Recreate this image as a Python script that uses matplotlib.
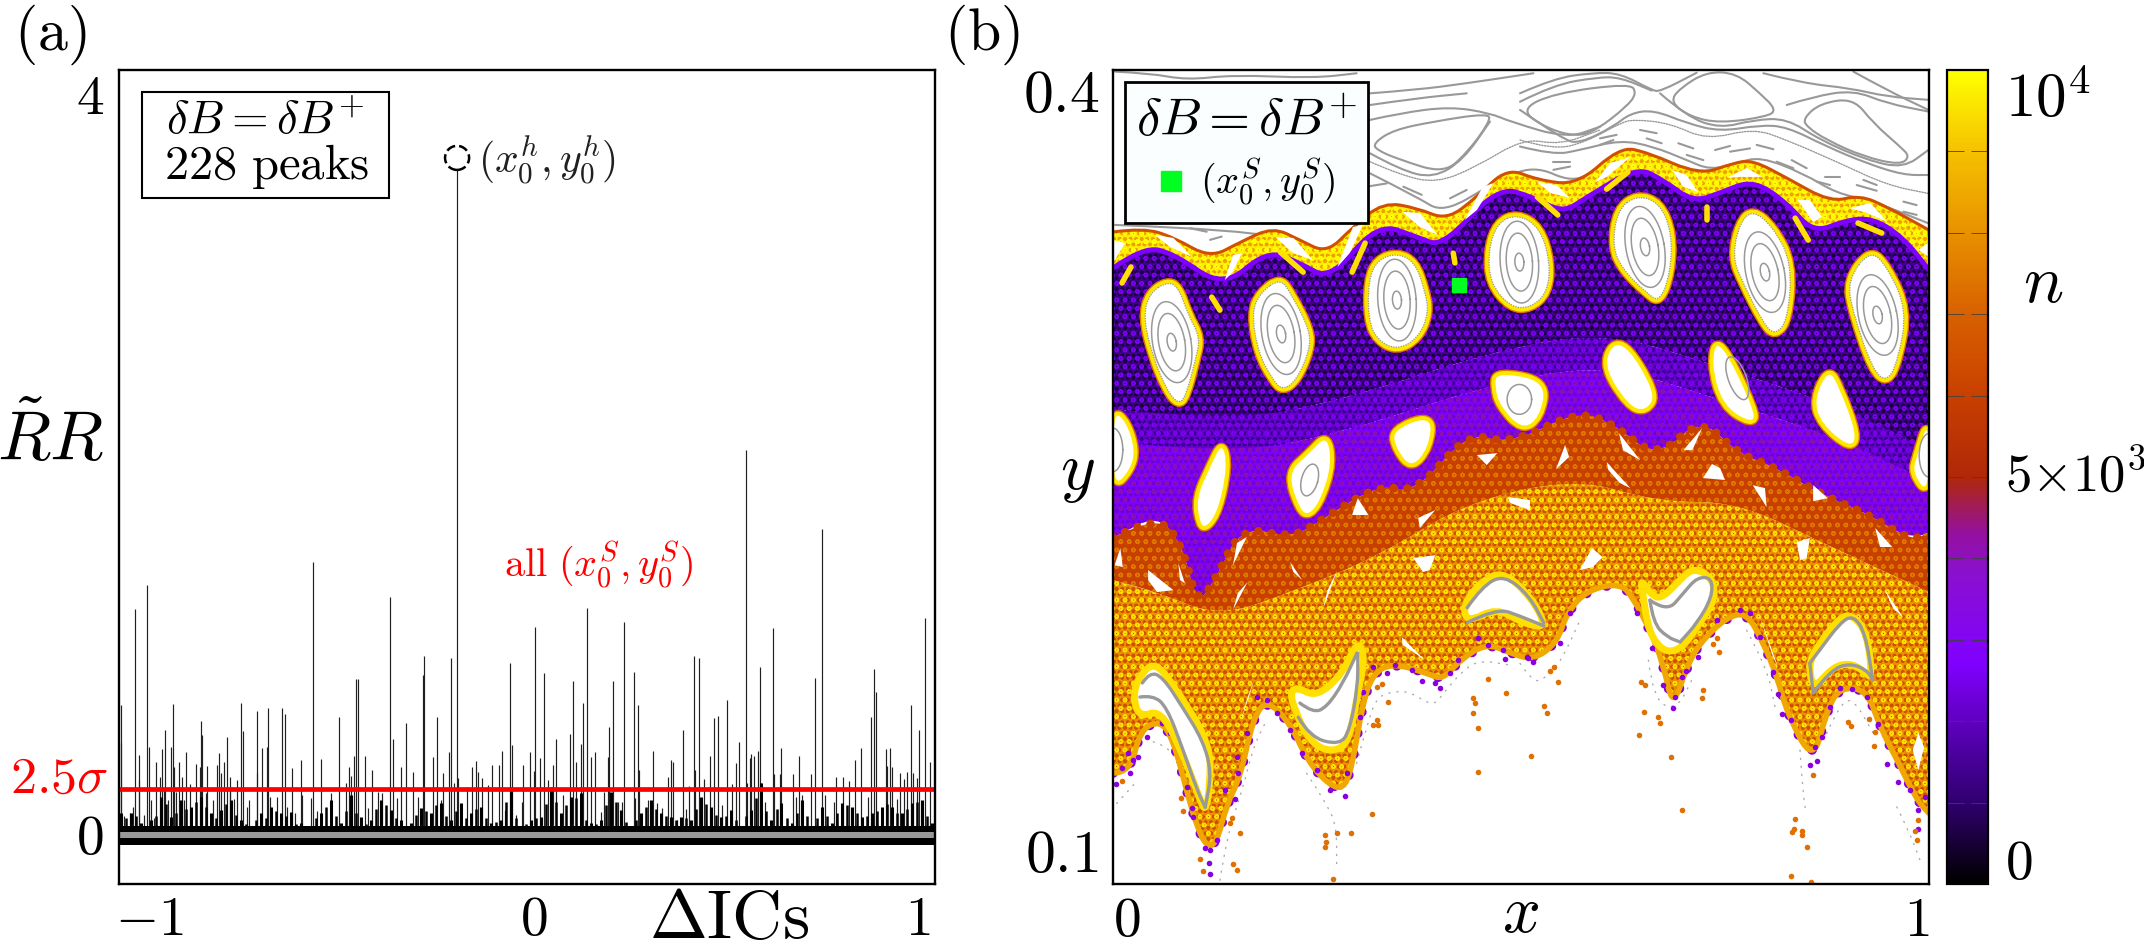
import numpy as np
import matplotlib
matplotlib.use('Agg')
from matplotlib import pyplot as plt
from matplotlib.colors import LinearSegmentedColormap, Normalize
from matplotlib.cm import ScalarMappable
from matplotlib.patches import Rectangle, PathPatch
from matplotlib.path import Path

plt.rcParams['mathtext.fontset'] = 'cm'
plt.rcParams['font.family'] = ['cmr10', 'DejaVu Serif']
plt.rcParams['axes.unicode_minus'] = False
plt.rcParams['hatch.linewidth'] = 1.0

# ---------- panel (a): peaks ----------
peak_x = [-1.074, -1.076, -1.068, -1.052, -1.043, -1.039, -1.029, -1.028, -1.016, -1.007, -1.002, -0.998, -0.990,
          -0.983, -0.974, -0.968, -0.964, -0.959, -0.952, -0.945, -0.939, -0.937, -0.931, -0.924, -0.917, -0.911,
          -0.905, -0.894, -0.880, -0.870, -0.867, -0.864, -0.854, -0.852, -0.835, -0.826, -0.820, -0.815, -0.807,
          -0.800, -0.792, -0.790, -0.781, -0.773, -0.763, -0.757, -0.747, -0.741, -0.722, -0.721, -0.707, -0.694,
          -0.692, -0.688, -0.670, -0.655, -0.648, -0.644, -0.629, -0.622, -0.607, -0.603, -0.579, -0.574, -0.564,
          -0.555, -0.529, -0.507, -0.490, -0.482, -0.475, -0.468, -0.464, -0.458, -0.440, -0.431, -0.421, -0.405,
          -0.395, -0.374, -0.368, -0.356, -0.345, -0.333, -0.314, -0.301, -0.290, -0.286, -0.262, -0.252, -0.243,
          -0.236, -0.220, -0.216, -0.208, -0.200, -0.197, -0.175, -0.160, -0.151, -0.145, -0.134, -0.119, -0.110,
          -0.090, -0.082, -0.074, -0.061, -0.056, -0.047, -0.032, -0.028, -0.009, 0.000, 0.004, 0.017, 0.026,
          0.037, 0.050, 0.057, 0.077, 0.094, 0.101, 0.109, 0.122, 0.128, 0.137, 0.148, 0.160, 0.174, 0.182,
          0.193, 0.195, 0.205, 0.220, 0.228, 0.234, 0.260, 0.262, 0.272, 0.274, 0.298, 0.309, 0.320, 0.333,
          0.350, 0.356, 0.363, 0.373, 0.389, 0.395, 0.404, 0.417, 0.419, 0.431, 0.443, 0.458, 0.468, 0.479,
          0.489, 0.502, 0.515, 0.526, 0.535, 0.551, 0.554, 0.563, 0.565, 0.573, 0.582, 0.589, 0.591, 0.602,
          0.622, 0.625, 0.641, 0.644, 0.674, 0.682, 0.689, 0.697, 0.720, 0.731, 0.749, 0.758, 0.780, 0.786,
          0.805, 0.821, 0.837, 0.852, 0.869, 0.878, 0.885, 0.890, 0.917, 0.920, 0.927, 0.932, 0.944, 0.953,
          0.963, 0.972, 0.981, 0.988, 0.998, 1.003, 1.017, 1.031]
peak_y = [0.703, 0.496, 0.103, 0.117, 0.153, 1.223, 0.297, 0.432, 0.108, 1.350, 0.478, 0.189, 0.090,
          0.393, 0.315, 0.463, 0.243, 0.568, 0.189, 0.478, 0.708, 0.369, 0.234, 0.393, 0.315, 0.189,
          0.450, 0.276, 0.384, 0.369, 0.618, 0.541, 0.225, 0.373, 0.189, 0.378, 0.441, 0.337, 0.393,
          0.532, 0.315, 0.261, 0.195, 0.297, 0.715, 0.562, 0.153, 0.189, 0.333, 0.670, 0.472, 0.478,
          0.685, 0.207, 0.204, 0.688, 0.654, 0.153, 0.360, 0.117, 0.405, 0.216, 0.198, 1.474, 0.132,
          0.411, 0.225, 0.636, 0.279, 0.366, 0.321, 0.429, 0.845, 0.845, 0.427, 0.144, 0.351, 0.234,
          0.225, 1.288, 0.517, 0.198, 0.369, 0.604, 0.339, 0.207, 0.865, 0.968, 0.423, 0.636, 0.189,
          0.333, 0.447, 0.955, 0.279, 3.600, 0.310, 0.261, 0.369, 0.402, 0.339, 0.306, 0.270, 0.378,
          0.378, 0.456, 0.135, 0.928, 0.487, 0.108, 0.180, 0.378, 0.450, 0.348, 1.122, 0.414, 0.874,
          0.297, 0.378, 0.519, 0.216, 0.546, 0.834, 0.397, 0.492, 0.715, 1.225, 0.423, 0.447, 0.126, 0.234,
          0.420, 0.586, 0.833, 0.180, 0.180, 1.153, 0.883, 0.198, 0.703, 0.351, 0.189, 0.454, 0.171, 0.144,
          0.315, 0.405, 0.393, 0.081, 0.568, 0.139, 0.265, 0.968, 0.351, 0.955, 0.303, 0.429, 0.631, 0.643,
          0.162, 0.730, 0.274, 0.387, 0.505, 2.079, 0.279, 0.414, 0.436, 0.429, 0.454, 0.906, 0.279, 0.180,
          1.117, 0.330, 0.330, 0.469, 0.330, 0.207, 0.429, 0.216, 0.330, 0.851, 1.654, 0.216, 0.180, 0.315,
          0.315, 0.292, 0.405, 0.469, 0.207, 0.640, 0.895, 0.775, 0.465, 0.373, 0.469, 0.369, 0.193, 0.333,
          0.303, 0.339, 0.703, 0.337, 0.306, 0.568, 1.171, 0.393]

# low forest of spikes, read left to right; second list sits between the first
low_y = [0.117, 0.117, 0.063, 0.081, 0.207, 0.099, 0.189, 0.153, 0.207, 0.117, 0.135, 0.189, 0.081, 0.045, 0.117,
         0.153, 0.117, 0.126, 0.063, 0.045, 0.117, 0.189, 0.063, 0.216, 0.099, 0.081, 0.189, 0.135, 0.081, 0.063,
         0.144, 0.117, 0.171, 0.081, 0.171, 0.117, 0.153, 0.063, 0.081, 0.261, 0.045, 0.081, 0.099, 0.261, 0.117,
         0.207, 0.225, 0.063, 0.081, 0.234, 0.135, 0.045, 0.117, 0.189, 0.117, 0.099, 0.099, 0.081, 0.207, 0.153,
         0.099, 0.135, 0.045, 0.135, 0.279, 0.081, 0.171, 0.063, 0.189, 0.045, 0.153, 0.063, 0.171, 0.153, 0.099,
         0.117, 0.153, 0.153, 0.117, 0.171, 0.189, 0.063]
low2_y = [0.090, 0.100, 0.050, 0.100, 0.170, 0.120, 0.140, 0.180, 0.150, 0.090, 0.170, 0.110, 0.060, 0.080, 0.090,
          0.130, 0.100, 0.060, 0.050, 0.090, 0.150, 0.100, 0.130, 0.120, 0.060, 0.140, 0.160, 0.090, 0.050, 0.110,
          0.130, 0.160, 0.100, 0.130, 0.090, 0.140, 0.090, 0.070, 0.180, 0.090, 0.060, 0.090, 0.170, 0.180, 0.160,
          0.200, 0.080, 0.060, 0.160, 0.180, 0.070, 0.080, 0.150, 0.140, 0.100, 0.080, 0.090, 0.140, 0.170, 0.110,
          0.100, 0.080, 0.100, 0.200, 0.130, 0.140, 0.090, 0.120, 0.100, 0.090, 0.100, 0.120, 0.160, 0.120, 0.100,
          0.130, 0.170, 0.120, 0.140, 0.180, 0.100]
low_x = np.linspace(-1.074, 1.035, len(low_y))
low2_x = np.linspace(-1.061, 1.022, len(low2_y))
threshold = 0.249
circle_x, circle_y = -0.2, 3.66

# ---------- panel (b): outlines of the regions ----------
gold_top_x = [0, .037, .074, .119, .156, .196, .229, .262, .294, .331, .373, .409, .446, .483, .520, .569, .621,
              .654, .719, .760, .784, .826, .879, .915, .949, 1]
gold_top_y = [.3403, .3418, .3384, .3307, .3366, .3421, .3373, .3325, .3421, .3513, .3491, .3447, .3532, .3639,
              .3595, .3576, .3716, .3698, .3613, .3657, .3668, .3602, .3513, .3539, .3495, .3410]
sea_top_x = [0, .037, .074, .135, .189, .229, .266, .324, .373, .404, .471, .515, .551, .581, .642, .674, .711,
             .744, .784, .826, .858, .899, .931, .968, 1]
sea_top_y = [.3270, .3348, .3325, .3196, .3337, .3289, .3226, .3436, .3384, .3348, .3569, .3532, .3473, .3532,
             .3642, .3595, .3513, .3547, .3595, .3510, .3399, .3447, .3454, .3384, .3263]
dark_edge_x = [0, .15, .3, .45, .6, .75, .9, 1]
dark_edge_y = [.275, .270, .280, .295, .304, .290, .275, .260]
mid_edge_y = [.263, .258, .268, .283, .292, .278, .263, .248]
orange_top_x = [0, .054, .085, .103, .125, .157, .219, .255, .326, .371, .434, .487, .568, .613, .666, .720, .765,
                .809, .872, .926, .979, 1]
orange_top_y = [.2275, .2363, .2253, .2028, .2120, .2319, .2275, .2341, .2474, .2441, .2666, .2621, .2743, .2699,
                .2566, .2721, .2588, .2540, .2430, .2363, .2264, .2297]
gold_edge_x = [0, .054, .13, .219, .326, .434, .568, .666, .765, .872, 1]
gold_edge_y = [.2120, .2076, .1984, .2076, .2209, .2408, .2496, .2408, .2408, .2253, .2076]
sea_bottom_x = [0, .021, .033, .058, .074, .091, .103, .115, .127, .140, .156, .172, .189, .217, .238, .262, .282,
                .293, .306, .319, .343, .385, .404, .425, .458, .487, .515, .544, .556, .581, .621, .637, .658,
                .674, .686, .703, .719, .752, .777, .797, .814, .826, .858, .875, .891, .924, .940, .961, .985, 1]
sea_bottom_y = [.1409, .1409, .1567, .1604, .1530, .1335, .1210, .1136, .1151, .1298, .1394, .1615, .1678, .1593,
                .1457, .1372, .1346, .1431, .1667, .1777, .1814, .1777, .1752, .1825, .1888, .1851, .1825, .1888,
                .1999, .2083, .2109, .2057, .1936, .1814, .1648, .1799, .1888, .1984, .1999, .1888, .1763, .1630,
                .1446, .1641, .1726, .1715, .1578, .1457, .1309, .1261]

# level of n shown in each region
n_gold_band = 9700
n_dark_sea = 1300
n_mid_sea = 2100
n_violet_sea = 2700
n_red_band = 6000
n_gold_sea = 8000

# large islands of the upper chain
islands_upper = [
    [(.066, .3219), (.080, .3201), (.092, .3098), (.107, .3013), (.101, .2932), (.089, .2796), (.080, .2769),
     (.066, .2820), (.049, .2942), (.037, .3090), (.045, .3178)],
    [(.205, .3233), (.219, .3171), (.241, .3042), (.241, .2968), (.225, .2857), (.208, .2820), (.196, .2857),
     (.178, .2957), (.170, .3104), (.180, .3178)],
    [(.348, .3325), (.370, .3292), (.382, .3189), (.387, .3104), (.374, .3012), (.348, .2968), (.324, .3005),
     (.313, .3078), (.313, .3226), (.324, .3300)],
    [(.495, .3469), (.523, .3421), (.536, .3289), (.532, .3178), (.511, .3123), (.487, .3126), (.462, .3215),
     (.460, .3337), (.471, .3436)],
    [(.642, .3539), (.670, .3510), (.685, .3399), (.683, .3252), (.670, .3145), (.654, .3178), (.625, .3263),
     (.612, .3348), (.618, .3484)],
    [(.784, .3484), (.809, .3421), (.832, .3289), (.827, .3078), (.811, .3023), (.797, .3067), (.772, .3215),
     (.759, .3311), (.768, .3436)],
    [(.928, .3337), (.949, .3274), (.973, .3115), (.962, .2931), (.949, .2850), (.931, .2894), (.907, .3104),
     (.900, .3226)],
]
upper_centre_x = [.072, .206, .348, .498, .652, .799, .937]
upper_centre_y = [.2997, .3027, .3152, .3292, .3348, .3255, .3097]
upper_tilt = [10, 10, 4, 4, 10, 12, 12]
loop_w = [.011, .032, .047]
loop_h = [.0066, .0214, .0302]

# second row of islands
islands_middle = [
    [(0, .2747), (.017, .2699), (.027, .2599), (.021, .2526), (0, .2459)],
    [(1, .2721), (.985, .2574), (.980, .2515), (1, .2433)],
    [(.134, .2629), (.140, .2537), (.129, .2378), (.115, .2316), (.107, .2323), (.102, .2422), (.119, .2537)],
    [(.262, .2655), (.268, .2551), (.256, .2426), (.241, .2360), (.229, .2378), (.214, .2515), (.241, .2588)],
    [(.391, .2728), (.387, .2610), (.366, .2533), (.348, .2599), (.342, .2673)],
    [(.470, .2886), (.531, .2853), (.523, .2719), (.501, .2675), (.474, .2764), (.468, .2831)],
    [(.622, .3020), (.666, .2809), (.653, .2742), (.631, .2764), (.599, .2920)],
    [(.742, .3020), (.787, .2742), (.783, .2697), (.747, .2764), (.733, .2920)],
    [(.877, .2898), (.890, .2831), (.912, .2653), (.903, .2608), (.868, .2697), (.859, .2786)],
]
middle_centre_x = [.241, .498, .765, 0, 1]
middle_centre_y = [.2489, .2786, .2864, .2600, .2580]
middle_w = [.020, .030, .022, .024, .024]
middle_h = [.0120, .0110, .0166, .0160, .0160]
middle_tilt = [-15, 0, 20, 0, 0]

# white slivers inside the gold band
slivers_band = [
    [(.051, .3392), (.074, .3381), (.097, .3311), (.070, .3348)],
    [(.137, .3226), (.147, .3318), (.158, .3325), (.146, .3252)],
    [(.199, .3384), (.221, .3381), (.245, .3300), (.221, .3325)],
    [(.275, .3274), (.294, .3421), (.306, .3429), (.290, .3325)],
    [(.355, .3477), (.376, .3473), (.398, .3392), (.376, .3421)],
    [(.431, .3447), (.453, .3569), (.466, .3583), (.446, .3484)],
    [(.520, .3587), (.544, .3576), (.560, .3528), (.536, .3547)],
    [(.591, .3587), (.609, .3657), (.634, .3679), (.605, .3606)],
    [(.685, .3631), (.703, .3613), (.717, .3550), (.699, .3569)],
    [(.752, .3602), (.777, .3639), (.795, .3606), (.768, .3606)],
    [(.839, .3521), (.854, .3521), (.869, .3458), (.858, .3440)],
    [(.903, .3491), (.928, .3510), (.949, .3440), (.924, .3473)],
    [(.987, .3337), (1, .3366), (1, .3311)],
    [(0, .3373), (.015, .3362), (0, .3289)],
]
# yellow drops on the dark sea: each is one short stroke
drops = [
    [(.011, .3215), (.022, .3274)], [(.121, .3163), (.131, .3115)], [(.205, .3329), (.233, .3255)],
    [(.293, .3255), (.309, .3362)], [(.417, .3325), (.419, .3289)], [(.520, .3532), (.545, .3466)],
    [(.605, .3561), (.631, .3624)], [(.728, .3495), (.728, .3447)], [(.836, .3454), (.852, .3373)],
    [(.913, .3436), (.942, .3399)],
]

# small white holes in the orange part
holes = [
    [(.554, .2618), (.559, .2574), (.543, .2529)], [(.620, .2662), (.646, .2562), (.625, .2599)],
    [(.605, .2555), (.634, .2459), (.621, .2478), (.607, .2526)], [(.722, .2680), (.710, .2599), (.699, .2599)],
    [(.723, .2496), (.734, .2548), (.744, .2533), (.750, .2489)], [(.784, .2470), (.799, .2459), (.801, .2389)],
    [(.858, .2470), (.876, .2422), (.858, .2411)], [(.838, .2260), (.854, .2275), (.850, .2201), (.842, .2194)],
    [(.934, .2312), (.955, .2242), (.940, .2242)], [(.946, .2083), (.968, .1984), (.956, .2017)],
    [(.572, .2157), (.587, .2238), (.600, .2205), (.588, .2168)], [(.790, .2010), (.815, .1799), (.809, .1836)],
    [(.300, .2422), (.313, .2360), (.293, .2360)], [(.395, .2378), (.376, .2312), (.374, .2349)],
    [(.446, .2581), (.471, .2588), (.458, .2544)], [(.484, .2426), (.511, .2415), (.511, .2378), (.487, .2404)],
    [(.368, .2201), (.395, .2212), (.388, .2157), (.380, .2150)], [(.009, .2238), (.012, .2168), (.002, .2175)],
    [(.147, .2175), (.164, .2279), (.152, .2257)], [(.043, .2157), (.074, .2083), (.054, .2076), (.043, .2120)],
    [(.147, .2010), (.165, .2113), (.153, .2072)], [(.257, .2010), (.275, .2157), (.263, .2083)],
    [(.156, .1593), (.174, .1759), (.165, .1689)], [(.354, .1910), (.382, .1825), (.370, .1851), (.355, .1881)],
    [(.987, .1556), (.994, .1505), (.987, .1420), (.980, .1494)], [(.080, .2183), (.088, .2109), (.082, .2120)],
    [(.217, .2187), (.232, .2120), (.221, .2150)],
]

# crescents along the lower edge
crescents = [
    [(.029, .1752), (.051, .1825), (.078, .1715), (.119, .1519), (.119, .1357), (.113, .1261), (.104, .1335),
     (.082, .1505), (.058, .1641), (.033, .1615), (.025, .1678)],
    [(.217, .1704), (.225, .1726), (.250, .1689), (.282, .1777), (.300, .1899), (.309, .1836), (.300, .1704),
     (.290, .1541), (.278, .1494), (.257, .1494), (.238, .1541), (.223, .1641)],
    [(.429, .2029), (.452, .2118), (.479, .2152), (.514, .2052), (.532, .1941), (.501, .1963), (.470, .2018),
     (.434, .1963)],
    [(.646, .2128), (.662, .2057), (.674, .2057), (.691, .2109), (.711, .2168), (.735, .2128), (.738, .2046),
     (.719, .1962), (.699, .1873), (.679, .1851), (.662, .1899), (.654, .1973), (.650, .2057)],
    [(.852, .1814), (.866, .1888), (.891, .1984), (.907, .1991), (.924, .1925), (.931, .1752), (.919, .1788),
     (.903, .1814), (.882, .1800), (.858, .1715)],
]
crescent_lines = [
    [(.036, .1741), (.045, .1781), (.061, .1763), (.085, .1652), (.110, .1530), (.121, .1409), (.113, .1283)],
    [(.033, .1689), (.049, .1696), (.066, .1652), (.086, .1494), (.103, .1346), (.113, .1283)],
    [(.229, .1667), (.245, .1630), (.262, .1652), (.282, .1741), (.299, .1851)],
    [(.227, .1615), (.241, .1541), (.278, .1512), (.290, .1567), (.300, .1726), (.300, .1851)],
    [(.434, .2018), (.452, .2096), (.479, .2140), (.510, .2063), (.528, .1962)],
    [(.434, .1963), (.470, .2018), (.501, .1985), (.528, .1951)],
    [(.658, .2046), (.679, .2002), (.699, .2072), (.716, .2131), (.734, .2128), (.734, .2057), (.716, .1962),
     (.695, .1892)],
    [(.658, .2046), (.662, .1962), (.679, .1910), (.695, .1892)],
    [(.854, .1814), (.866, .1862), (.891, .1962), (.907, .1991), (.922, .1925), (.931, .1752)],
    [(.858, .1704), (.854, .1814)],
    [(.858, .1704), (.879, .1788), (.903, .1814), (.924, .1788), (.931, .1752)],
]

# stray points below the sea
orange_x = [.0106, .0829, .0862, .1066, .1099, .1474, .1515, .1556, .1454, .1434, .2598, .2741, .2912, .2610, .2598,
            .2700, .3170, .3374, .3231, .3190, .3251, .3231, .3292, .4416, .4436, .4416, .4477, .4477, .4816, .4600,
            .5119, .5282, .5323, .5356, .5405, .5458, .6450, .6512, .6467, .6516, .6683, .6704, .6834, .6969, .7227,
            .7214, .7349, .7427, .7406, .8354, .8346, .8321, .8444, .8444, .8509, .8309, .8554, .9012, .9044, .9269,
            .9339, .9330, .8575, .9829, .9857, .9861]
orange_y = [.1381, .1318, .1269, .1092, .1049, .1073, .1051, .1189, .1242, .1223, .1182, .1189, .1189, .1156, .1135,
            .1019, .1257, .1672, .1604, .1586, .1586, .1725, .1737, .1684, .1668, .1632, .1576, .1411, .1705, .1754,
            .1472, .1655, .1631, .1784, .1800, .1743, .1550, .1634, .1745, .1733, .1614, .1594, .1469, .1272, .1714,
            .1687, .1886, .1856, .1908, .1240, .1204, .1192, .1195, .1180, .1137, .1029, .1008, .1598, .1582, .1607,
            .1561, .1509, .1401, .1196, .1164, .1235]
violet_x = [.0037, .0106, .0208, .0249, .0310, .0188, .0412, .0596, .0698, .0903, .0964, .0984, .1127, .1189, .1189,
            .1180, .1270, .1372, .1495, .1536, .1515, .1638, .1760, .1883, .2005, .2169, .2312, .2496, .2659, .2843,
            .2863, .3027, .3068, .3190, .3354, .3456, .3660, .3783, .3946, .4007, .4130, .4232, .4477, .4600, .4783,
            .4804, .5090, .5151, .5070, .5478, .5601, .6418, .6602, .6745, .6867, .6887, .6969, .7022, .7165, .7398,
            .7684, .7807, .7929, .8093, .8154, .8195, .8305, .8603, .8542, .8632, .8685, .8787, .8910, .9053, .9236,
            .9379, .9481, .9624, .9767, .9869, .9869, .9951]
violet_y = [.1368, .1426, .1408, .1457, .1467, .1481, .1543, .1592, .1555, .1359, .1279, .1248, .1131, .1125, .1037,
            .1076, .1162, .1346, .1315, .1408, .1469, .1555, .1690, .1678, .1629, .1567, .1481, .1420, .1346, .1324,
            .1408, .1617, .1709, .1801, .1779, .1807, .1789, .1749, .1739, .1721, .1776, .1825, .1905, .1881, .1862,
            .1829, .1832, .1819, .1837, .1889, .1997, .1997, .1868, .1733, .1647, .1690, .1763, .1786, .1837, .1972,
            .2009, .1997, .1911, .1782, .1702, .1626, .1606, .1505, .1438, .1453, .1542, .1653, .1724, .1720, .1690,
            .1591, .1444, .1376, .1346, .1272, .1202, .1321]
# faint grey trails of points under the sea
trails = [
    [(.0045, .1297), (.0269, .1371)],
    [(.0494, .1524), (.0698, .1506), (.0821, .1420), (.1025, .1285)],
    [(.1311, .1014), (.1393, .1174), (.1597, .1358), (.1720, .1506), (.1883, .1604)],
    [(.2373, .1408), (.2618, .1297), (.2741, .1211), (.2741, .1064)],
    [(.2986, .1445), (.3108, .1580), (.3231, .1690), (.3435, .1709), (.3640, .1709), (.3925, .1653), (.4048, .1703),
     (.4293, .1789), (.4497, .1825), (.4865, .1807)],
    [(.4988, .1813), (.5151, .1739), (.5315, .1763), (.5499, .1825), (.5723, .1972)],
    [(.6561, .1825), (.6622, .1677), (.6908, .1641), (.7112, .1763)],
    [(.7766, .1935), (.8011, .1800), (.8113, .1653)],
    [(.8419, .1493), (.8460, .1309), (.8501, .1260)],
    [(.8746, .1555), (.8910, .1665), (.9073, .1684), (.9318, .1555)],
    [(.9606, .1284), (.9767, .1186), (.9890, .1088)],
]

# grey curves above the sea
eyes = [
    [(.3191, .3730), (.3436, .3779), (.3926, .3810), (.4600, .3841), (.4620, .3810), (.4335, .3693), (.4049, .3619),
     (.3518, .3669), (.3232, .3705)],
    [(.4988, .3853), (.5397, .3914), (.6336, .3951), (.6418, .3914), (.6295, .3865), (.5928, .3779), (.5682, .3754),
     (.5315, .3785)],
    [(.6826, .3883), (.6949, .3933), (.7276, .3994), (.7643, .3988), (.7929, .3914), (.8133, .3853), (.8011, .3828),
     (.7439, .3804), (.7071, .3828)],
    [(.8460, .3822), (.8665, .3877), (.9073, .3896), (.9318, .3804), (.9645, .3718), (.9767, .3681), (.9645, .3650),
     (.9196, .3681), (.8746, .3742), (.8501, .3791)],
]
flow_lines = [
    [(.4988, .3914), (.5397, .3969), (.5887, .3990), (.6214, .3988), (.6602, .3926), (.6704, .3920), (.7153, .3990)],
    [(.4988, .3883), (.5397, .3945), (.5928, .3973), (.6214, .3973), (.6602, .3924)],
    [(.6704, .3914), (.7031, .3828), (.7439, .3785), (.7848, .3816), (.8256, .3822), (.8665, .3742), (.9236, .3668),
     (.9686, .3638), (.9992, .3705)],
    [(.4988, .3853), (.5519, .3742), (.5723, .3730), (.6132, .3791), (.6336, .3840), (.6622, .3853), (.7031, .3804),
     (.7439, .3773), (.7929, .3797), (.8256, .3791), (.8746, .3718), (.9236, .3656), (.9686, .3613), (.9992, .3613)],
    [(.7970, .3988), (.8460, .3951), (.9032, .3933), (.9482, .3902), (.9992, .3890)],
    [(.9073, .3994), (.9482, .3926), (.9992, .3853)],
    [(.8256, .3871), (.8583, .3902), (.9073, .3926), (.9482, .3877), (.9992, .3847)],
    [(.3150, .3914), (.3722, .3927), (.4335, .3951), (.5152, .3988)],
    [(.3150, .3871), (.3722, .3896), (.4335, .3914)],
    [(.3150, .3816), (.3517, .3841), (.4130, .3865), (.4620, .3841), (.4866, .3810), (.5560, .3748), (.5968, .3791)],
    [(.3150, .3693), (.3517, .3632), (.3926, .3601), (.4294, .3669), (.4620, .3810)],
    [(.3150, .3619), (.3722, .3533), (.4049, .3472), (.4661, .3583), (.5152, .3650), (.5642, .3583), (.5968, .3644)],
    [(.4988, .3718), (.5397, .3687), (.5723, .3705), (.6214, .3742), (.6622, .3718), (.7031, .3668), (.7317, .3632),
     (.7643, .3656), (.7929, .3681), (.8460, .3619), (.8869, .3545), (.9277, .3521), (.9992, .3435)],
    [(.0025, .3429), (.1598, .3411), (.2292, .3361), (.2578, .3318), (.2782, .3355), (.3109, .3460)],
    [(.0025, .3994), (.0454, .3988), (.0903, .3963), (.1475, .3982), (.2455, .3970), (.2986, .3988)],
]
dotted_lines = [
    [(.3150, .3662), (.3517, .3613), (.3967, .3583), (.4457, .3644), (.5029, .3748), (.5478, .3724), (.5968, .3779)],
    [(.4988, .3742), (.5397, .3705), (.5805, .3736), (.6214, .3804), (.6377, .3818), (.6826, .3804), (.7276, .3742),
     (.7848, .3785), (.8256, .3742), (.8869, .3662), (.9482, .3576), (.9992, .3545)],
]
dashes = [
    [(.6459, .3779), (.6663, .3767)], [(.6540, .3748), (.6724, .3730)], [(.6928, .3730), (.7112, .3711)],
    [(.7031, .3687), (.7235, .3668)], [(.7378, .3705), (.7562, .3720)], [(.7562, .3699), (.7807, .3711)],
    [(.7888, .3724), (.8093, .3708)], [(.8133, .3662), (.8338, .3638)], [(.8317, .3668), (.8501, .3638)],
    [(.8624, .3589), (.8787, .3576)], [(.8726, .3607), (.8910, .3607)], [(.9114, .3576), (.9359, .3555)],
    [(.9196, .3595), (.9359, .3576)], [(.9686, .3515), (.9849, .3502)], [(.9686, .3478), (.9849, .3466)],
    [(.5397, .3662), (.5601, .3662)], [(.5397, .3632), (.5601, .3644)], [(.5968, .3748), (.6172, .3761)],
    [(.5968, .3724), (.6132, .3742)], [(.4130, .3527), (.4335, .3558)], [(.3558, .3570), (.3783, .3540)],
    [(.3109, .3570), (.3354, .3582)], [(.0944, .3417), (.1148, .3404)], [(.1189, .3374), (.1332, .3386)],
]
start_x, start_y = .424, .3207

# colour scale for n
cmap_n = LinearSegmentedColormap.from_list('n_map', [
    (0.00, '#000000'), (0.10, '#300070'), (0.20, '#6000c0'), (0.27, '#8000ff'), (0.38, '#8a10d0'),
    (0.43, '#9410a0'), (0.50, '#b02808'), (0.60, '#c84000'), (0.70, '#d86000'), (0.80, '#e89000'),
    (0.90, '#f5c000'), (1.00, '#ffff00')])
norm_n = Normalize(0, 10000)


def xy(points):
    return [p[0] for p in points], [p[1] for p in points]


def curve_verts(points):
    # read points act as quadratic control points, so the outline comes out rounded
    verts = [points[0]]
    codes = [Path.MOVETO]
    for a, b in zip(points[1:-1], points[2:]):
        verts += [a, ((a[0] + b[0]) / 2, (a[1] + b[1]) / 2)]
        codes += [Path.CURVE3, Path.CURVE3]
    verts.append(points[-1])
    codes.append(Path.LINETO)
    return verts, codes


def open_path(points):
    verts, codes = curve_verts(points)
    return Path(verts, codes)


def closed_path(points):
    first = ((points[-1][0] + points[0][0]) / 2, (points[-1][1] + points[0][1]) / 2)
    verts = [first]
    codes = [Path.MOVETO]
    ring = list(points) + [points[0]]
    for a, b in zip(ring[:-1], ring[1:]):
        verts += [a, ((a[0] + b[0]) / 2, (a[1] + b[1]) / 2)]
        codes += [Path.CURVE3, Path.CURVE3]
    verts.append(first)
    codes.append(Path.CLOSEPOLY)
    return Path(verts, codes)


def band_path(top_x, top_y, bot_x, bot_y):
    v1, c1 = curve_verts(list(zip(top_x, top_y)))
    v2, c2 = curve_verts(list(zip(bot_x, bot_y))[::-1])
    c2[0] = Path.LINETO
    return Path(v1 + v2 + [v1[0]], c1 + c2 + [Path.CLOSEPOLY])


def band(ax, top_x, top_y, bot_x, bot_y, n, specks, z):
    # region between two read-off curves, mottled with hatch layers
    p = band_path(top_x, top_y, bot_x, bot_y)
    ax.add_patch(PathPatch(p, facecolor=cmap_n(norm_n(n)), edgecolor='none', lw=0, zorder=z))
    for i, (color, hatch) in enumerate(specks):
        ax.add_patch(PathPatch(p, facecolor='none', edgecolor=color, hatch=hatch, lw=0, zorder=z + 0.05 * (i + 1)))


def stroke(ax, points, **kw):
    ax.add_patch(PathPatch(open_path(points), facecolor='none', capstyle='round', **kw))


def loop(ax, cx, cy, w, h, tilt, z=6):
    # closed grey orbit, tilted in picture space (y axis spans 0.3)
    t = np.linspace(0, 2 * np.pi, 60)
    a = np.radians(tilt)
    h_iso = h / 0.3
    lx = cx + w / 2 * np.cos(t) * np.cos(a) - h_iso / 2 * np.sin(t) * np.sin(a)
    ly = cy + 0.3 * (w / 2 * np.cos(t) * np.sin(a) + h_iso / 2 * np.sin(t) * np.cos(a))
    ax.plot(lx, ly, color='#999999', lw=1.1, zorder=z)


def rimmed(ax, points, z=5):
    p = closed_path(points)
    ax.add_patch(PathPatch(p, facecolor='#e07000', edgecolor='#e07000', lw=8, joinstyle='round', zorder=z))
    ax.add_patch(PathPatch(p, facecolor='#ffe800', edgecolor='#ffe800', lw=6, joinstyle='round', zorder=z + 0.1))
    ax.add_patch(PathPatch(p, facecolor='white', edgecolor='none', zorder=z + 0.2))


fig = plt.figure(figsize=(21.44, 9.48), dpi=100)
ax_a = fig.add_axes([119 / 2144, 64 / 948, 816 / 2144, 814 / 948])
ax_b = fig.add_axes([1113 / 2144, 64 / 948, 816 / 2144, 814 / 948])
cax = fig.add_axes([1947 / 2144, 64 / 948, 41 / 2144, 814 / 948])

# ---------- panel (a) ----------
ax_a.set_xlim(-1.08, 1.044)
ax_a.set_ylim(-0.265, 4.135)
ax_a.vlines(peak_x, 0, peak_y, color='#202020', lw=0.85, zorder=2)
ax_a.vlines(low_x, 0, low_y, color='black', lw=2.2, zorder=2)
ax_a.vlines(low2_x, 0, low2_y, color='black', lw=1.8, zorder=2)
ax_a.axhspan(0.018, 0.05, color='black', lw=0, zorder=3)
ax_a.axhspan(-0.056, -0.018, color='black', lw=0, zorder=3)
ax_a.axhspan(-0.018, 0.018, color='#999999', lw=0, zorder=4)
ax_a.axhline(threshold, color='#ff0000', lw=3.4, zorder=5)
ax_a.scatter([circle_x], [circle_y], s=300, facecolors='none', edgecolors='black', linestyles='--',
             linewidths=1.8, zorder=6)
ax_a.text(-0.146, 3.65, r'$(x_0^h,y_0^h)$', fontsize=30, ha='left', va='center', color='#202020')
ax_a.text(-0.078, 1.459, r'$\mathrm{all}\ (x_0^S,y_0^S)$', fontsize=29, ha='left', va='center', color='#ff0000')

ax_a.set_xticks([-1, 0, 1])
ax_a.set_xticklabels([r'$-1$', r'$0$', r'$1$'], fontsize=40)
ax_a.set_yticks([0, 4])
ax_a.set_yticklabels([r'$0$', r'$4$'], fontsize=40)
ax_a.tick_params(length=0, pad=9)
ax_a.tick_params(axis='y', pad=11)
ax_a.text(-0.0135, threshold + 0.05, r'$2.5\sigma$', color='#ff0000', fontsize=37.5, ha='right', va='center',
          transform=ax_a.get_yaxis_transform())

ax_a.add_patch(Rectangle((.028, .843), .303, .130, transform=ax_a.transAxes, fc='white', ec='black', lw=1.5,
                         zorder=7))
ax_a.text(.179, .937, r'$\delta B=\delta B^{+}$', transform=ax_a.transAxes, fontsize=34, ha='center', va='center',
          zorder=8)
ax_a.text(.181, .882, r'$\mathrm{228\ peaks}$', transform=ax_a.transAxes, fontsize=35, ha='center', va='center',
          zorder=8)

# ---------- panel (b) ----------
ax_b.set_xlim(0, 1)
ax_b.set_ylim(0.1, 0.4)

for pts in eyes:
    ax_b.add_patch(PathPatch(closed_path(pts), facecolor='none', edgecolor='#999999', lw=1.5, zorder=1))
for pts in flow_lines + dashes:
    stroke(ax_b, pts, edgecolor='#999999', lw=1.5, zorder=1)
for pts in dotted_lines:
    stroke(ax_b, pts, edgecolor='#999999', lw=1.0, ls=(0, (1, 1)), zorder=1)
for pts in trails:
    stroke(ax_b, pts, edgecolor='#aaaaaa', lw=1.0, ls=(0, (0.8, 5)), zorder=1)

# bumpy violet fringe just outside the lower edge
stroke(ax_b, list(zip(sea_bottom_x, sea_bottom_y)), edgecolor='#8a00e0', lw=7, ls=(0, (0.01, 2.2)), zorder=1.5)

band(ax_b, gold_top_x, gold_top_y, sea_top_x, sea_top_y, n_gold_band,
     [('#f0a000', 'ooo'), ('#ffff00', 'oo')], 2)
band(ax_b, sea_top_x, sea_top_y, dark_edge_x, dark_edge_y, n_dark_sea,
     [('#1a0040', 'ooo'), ('#7a00f0', 'oo')], 2.3)
band(ax_b, dark_edge_x, dark_edge_y, dark_edge_x, mid_edge_y, n_mid_sea,
     [('#3c0090', 'ooo'), ('#7a00f0', 'oo')], 2.5)
band(ax_b, dark_edge_x, mid_edge_y, orange_top_x, orange_top_y, n_violet_sea,
     [('#6a00d8', 'ooo'), ('#8a10b0', 'oo')], 2.7)
band(ax_b, orange_top_x, orange_top_y, gold_edge_x, gold_edge_y, n_red_band,
     [('#e07800', 'oo')], 2.9)
band(ax_b, gold_edge_x, gold_edge_y, sea_bottom_x, sea_bottom_y, n_gold_sea,
     [('#d05000', 'ooo'), ('#ffe000', 'oo')], 3.2)
stroke(ax_b, list(zip(orange_top_x, orange_top_y)), edgecolor='#c84000', lw=6, ls=(0, (0.01, 1.6)), zorder=3.1)
stroke(ax_b, list(zip(gold_top_x, gold_top_y)), edgecolor='#d05000', lw=2.2, zorder=3.6)
stroke(ax_b, list(zip(sea_top_x, sea_top_y)), edgecolor='#8000ff', lw=3.5, zorder=3.6)
stroke(ax_b, list(zip(sea_bottom_x, sea_bottom_y)), edgecolor='#f0a800', lw=4, zorder=3.6)

for pts in islands_upper + islands_middle:
    rimmed(ax_b, pts)
for pts in islands_upper:
    ax_b.add_patch(PathPatch(closed_path(pts), facecolor='none', edgecolor='#999999', lw=0.9, ls=(0, (1, 1)),
                             zorder=5.5))
for cx, cy, tilt in zip(upper_centre_x, upper_centre_y, upper_tilt):
    for w, h in zip(loop_w, loop_h):
        loop(ax_b, cx, cy, w, h, tilt)
for cx, cy, w, h, tilt in zip(middle_centre_x, middle_centre_y, middle_w, middle_h, middle_tilt):
    loop(ax_b, cx, cy, w, h, tilt)
for pts in slivers_band + holes:
    x, y = xy(pts)
    ax_b.fill(x, y, facecolor='white', edgecolor='none', zorder=5)
for pts in drops:
    ax_b.plot(*xy(pts), color='#ffe000', lw=4, solid_capstyle='round', zorder=5)
for pts in crescents:
    ax_b.add_patch(PathPatch(closed_path(pts), facecolor='white', edgecolor='#ffe000', lw=5, joinstyle='round',
                             zorder=5))
for pts in crescent_lines:
    stroke(ax_b, pts, edgecolor='#999999', lw=2.4, zorder=6)

ax_b.scatter(violet_x, violet_y, s=16, color='#8a00e0', lw=0, zorder=4)
ax_b.scatter(orange_x, orange_y, s=16, color='#e07000', lw=0, zorder=4)
ax_b.plot([start_x], [start_y], marker='s', ms=10.5, color='#00ff20', lw=0, zorder=7)

ax_b.set_xticks([0, 1])
ax_b.set_xticklabels([r'$0$', r'$1$'], fontsize=40)
ax_b.set_yticks([0.1, 0.4])
ax_b.set_yticklabels([r'$0.1$', r'$0.4$'], fontsize=43)
ax_b.tick_params(length=0, pad=10)
ax_b.get_xticklabels()[0].set_ha('left')
ax_b.get_xticklabels()[1].set_ha('right')
ax_b.get_yticklabels()[0].set_va('bottom')
ax_b.get_yticklabels()[1].set_va('top')

ax_b.add_patch(Rectangle((.015, .812), .298, .173, transform=ax_b.transAxes, fc='#fafeff', ec='black',
                         lw=2, zorder=8))
ax_b.text(.164, .936, r'$\delta B=\delta B^{+}$', transform=ax_b.transAxes, fontsize=38, ha='center', va='center',
          zorder=9)
ax_b.text(.189, .862, r'$(x_0^S,y_0^S)$', transform=ax_b.transAxes, fontsize=29, ha='center', va='center', zorder=9)
ax_b.plot([.071], [.864], marker='s', ms=14.5, color='#00ff20', lw=0, transform=ax_b.transAxes, zorder=9)

for ax in (ax_a, ax_b):
    for s in ax.spines.values():
        s.set_linewidth(1.7)
        s.set_zorder(10)

# ---------- colour bar ----------
cb = fig.colorbar(ScalarMappable(norm=norm_n, cmap=cmap_n), cax=cax)
cb.set_ticks([1000, 2000, 3000, 4000, 5000, 6000, 7000, 8000, 9000])
cb.set_ticklabels([])
cax.tick_params(which='both', direction='in', length=12, width=0.6, color='#404040', left=True, right=True)
cb.outline.set_linewidth(1.6)
cax.text(1.42, 233, r'$0$', fontsize=40, ha='left', va='center', transform=cax.get_yaxis_transform())
cax.text(1.42, 5025, r'$5{\times}10^3$', fontsize=38, ha='left', va='center', transform=cax.get_yaxis_transform())
cax.text(1.42, 9630, r'$10^4$', fontsize=44, ha='left', va='center', transform=cax.get_yaxis_transform())

# ---------- labels placed on the figure ----------
fig.text(50 / 2144, 1 - 35 / 948, r'$\mathrm{(a)}$', fontsize=43, ha='center', va='center')
fig.text(982 / 2144, 1 - 35 / 948, r'$\mathrm{(b)}$', fontsize=43, ha='center', va='center')
fig.text(51 / 2144, 1 - 438 / 948, r'$\tilde{R}R$', fontsize=50, ha='center', va='center')
fig.text(729 / 2144, 1 - 920 / 948, r'$\Delta\mathrm{ICs}$', fontsize=50, ha='center', va='center')
fig.text(1077 / 2144, 1 - 475 / 948, r'$y$', fontsize=48, ha='center', va='center')
fig.text(1520 / 2144, 1 - 915 / 948, r'$x$', fontsize=48, ha='center', va='center')
fig.text(2043 / 2144, 1 - 285 / 948, r'$n$', fontsize=48, ha='center', va='center')

fig.savefig('out.png', dpi=100)
